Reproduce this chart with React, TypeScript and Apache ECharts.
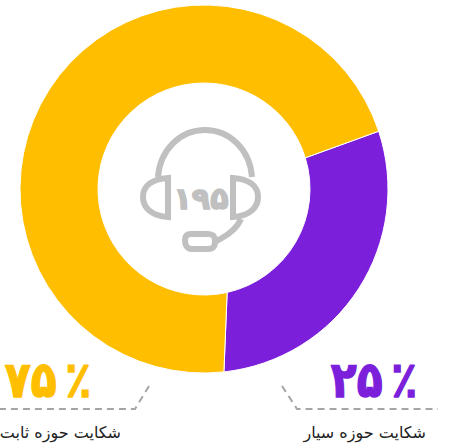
import React, { useEffect, useRef } from "react";
import * as echarts from "echarts";

const categories = ["شکایت حوزه سیار", "شکایت حوزه ثابت"];
const values = [55.3, 139.7];
const colors = ["#7B1FDB", "#FFBF00"];
const percentLabels = ["۲۵\u2009٪", "۷۵\u2009٪"];
const totalLabel = "۱۹۵";

const headset =
  "M158 177 C160 150 180 130 205 130 C230 130 250 150 252 177 " +
  "M168 178 L168 217 C152 216 143 208 143 197 C143 186 152 179 168 178 Z " +
  "M233 178 L233 217 C249 216 258 208 258 197 C258 186 249 179 233 178 Z " +
  "M241 219 C237 228 231 233 222 238 L215 242 " +
  "M191 234 L208 234 C213 234 215 236 215 241 C215 247 213 249 208 249 L192 249 C187 249 185 245 185 240 C185 236 187 234 191 234 Z";

echarts.graphic.registerShape("headset", echarts.graphic.extendPath(headset, {}) as any);

const FONT = "'DejaVu Sans', sans-serif";

const CX = 204;
const CY = 189;
const R_OUT = 184;
const R_IN = 106;
const START_DEG = 18.3;
// The reference's inner edges are not quite radial: inner-arc angle = outer angle + skew.
const INNER_SKEW = [-1.2, 6.4];

const total = values.reduce((a, b) => a + b, 0);

function pt(r: number, deg: number): string {
  const a = (deg * Math.PI) / 180;
  return `${(CX + r * Math.cos(a)).toFixed(2)} ${(CY - r * Math.sin(a)).toFixed(2)}`;
}

function ringPath(a0: number, a1: number, i0: number, i1: number): string {
  const largeOut = a0 - a1 > 180 ? 1 : 0;
  const largeIn = i0 - i1 > 180 ? 1 : 0;
  return (
    `M${pt(R_OUT, a0)} A${R_OUT} ${R_OUT} 0 ${largeOut} 1 ${pt(R_OUT, a1)} ` +
    `L${pt(R_IN, i1)} A${R_IN} ${R_IN} 0 ${largeIn} 0 ${pt(R_IN, i0)} Z`
  );
}

export default function App() {
  const ref = useRef<HTMLDivElement>(null);
  useEffect(() => {
    const chart = echarts.init(ref.current!, undefined, { renderer: "svg" });
    const dash = { stroke: "#A5A5A5", lineWidth: 2, lineDash: [7, 5], fill: "none" };
    const percentText = (i: number, x: number) => ({
      type: "text",
      x,
      y: 380,
      scaleX: 0.85,
      silent: true,
      style: {
        text: percentLabels[i],
        fill: colors[i],
        stroke: colors[i],
        lineWidth: 1.5,
        font: `bold 50px ${FONT}`,
        align: "center",
        verticalAlign: "middle",
      },
    });
    const nameText = (i: number, x: number) => ({
      type: "text",
      x,
      y: 432,
      silent: true,
      style: {
        text: categories[i],
        fill: "#222",
        font: `16px ${FONT}`,
        align: "right",
        verticalAlign: "middle",
      },
    });
    chart.setOption({
      animation: false,
      series: [
        {
          type: "custom",
          coordinateSystem: "none",
          silent: true,
          clip: false,
          data: categories.map((name, i) => ({ name, value: [values[i], i] })),
          renderItem: (params: any, api: any) => {
            const idx = api.value(1);
            const split = START_DEG - (values[0] / total) * 360;
            const geometry =
              idx === 0
                ? [START_DEG, split, START_DEG + INNER_SKEW[0], split + INNER_SKEW[1]]
                : [split, START_DEG - 360, split + INNER_SKEW[1], START_DEG - 360 + INNER_SKEW[0]];
            return {
              type: "path",
              shape: { pathData: ringPath(geometry[0], geometry[1], geometry[2], geometry[3]) },
              style: { fill: colors[idx], stroke: "#fff", lineWidth: 1 },
            };
          },
        },
      ],
      graphic: [
        {
          type: "headset",
          x: 0,
          y: 0,
          silent: true,
          style: { fill: "none", stroke: "#C0C0C0", lineWidth: 6 },
        },
        {
          type: "text",
          x: 201,
          y: 198,
          silent: true,
          style: {
            text: totalLabel,
            fill: "#C0C0C0",
            stroke: "#C0C0C0",
            lineWidth: 1.5,
            font: `bold 30px ${FONT}`,
            align: "center",
            verticalAlign: "middle",
          },
        },
        percentText(0, 374),
        percentText(1, 48),
        { type: "polyline", silent: true, shape: { points: [[282, 386], [297, 409], [438, 409]] }, style: dash },
        { type: "polyline", silent: true, shape: { points: [[149, 386], [135, 409], [0, 409]] }, style: dash },
        nameText(0, 426),
        nameText(1, 121),
      ],
    });
    return () => chart.dispose();
  }, []);
  return (
    <div
      ref={ref}
      style={{ position: "absolute", left: 0, top: 0, width: 454, height: 444, background: "#fff" }}
    />
  );
}
